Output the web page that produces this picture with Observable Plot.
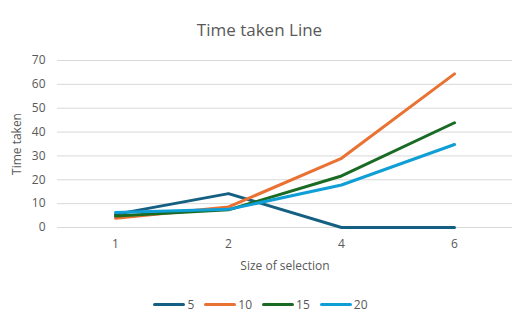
<!DOCTYPE html>
<html>
<head>
<meta charset="utf-8">
<script src="https://cdn.jsdelivr.net/npm/d3@7"></script>
<script src="https://cdn.jsdelivr.net/npm/@observablehq/plot@0.6"></script>
<style>
  body { margin: 0; background: #fff; font-family: "Open Sans", sans-serif; color: #595959; }
  #chart { width: 519px; height: 326px; position: relative; overflow: hidden; }
  #title { height: 45px; line-height: 60px; text-align: center; font-size: 17px; color: #595959; }
  #legend { display: flex; justify-content: center; gap: 10px; font-size: 12px; margin-top: 16px; padding-left: 2px; }
  .item { display: flex; align-items: center; gap: 2px; }
  .swatch { width: 32px; height: 3px; border-radius: 2px; }
</style>
</head>
<body>
<div id="chart">
  <div id="title">Time taken Line</div>
  <div id="plot"></div>
  <div id="legend"></div>
</div>
<script>
// Size of selection (x categories)
const sizes = ["1", "2", "4", "6"];
// Series names and colours
const seriesNames = ["5", "10", "15", "20"];
const seriesColors = ["#156082", "#E97132", "#196B24", "#0F9ED5"];
// Time taken per series, one value per size
const s5  = [5.5, 14.2, 0, 0];
const s10 = [3.9, 8.6, 29, 64.4];
const s15 = [4.8, 7.4, 21.6, 43.9];
const s20 = [6.3, 7.6, 17.8, 34.8];
const yTicks = [0, 10, 20, 30, 40, 50, 60, 70];

const seriesValues = [s5, s10, s15, s20];
const rows = seriesNames.flatMap((name, i) =>
  sizes.map((size, j) => ({series: name, size, value: seriesValues[i][j]}))
);

const plot = Plot.plot({
  width: 519,
  height: 235,
  marginLeft: 57,
  marginRight: 7,
  marginTop: 15,
  marginBottom: 53,
  style: {fontFamily: "Open Sans, sans-serif", fontSize: "12px", color: "#595959", background: "transparent"},
  x: {type: "point", domain: sizes, padding: 0.5, label: null},
  y: {domain: [0, 70], label: null},
  color: {domain: seriesNames, range: seriesColors},
  marks: [
    Plot.gridY(yTicks, {stroke: "#d9d9d9", strokeOpacity: 1, strokeWidth: 1}),
    Plot.axisY(yTicks, {tickSize: 0, tickPadding: 12, fontSize: 12, fill: "#595959"}),
    Plot.axisX(sizes, {tickSize: 0, tickPadding: 12, fontSize: 12, fill: "#595959"}),
    Plot.axisY({ticks: [], label: "Time taken", labelAnchor: "center", labelArrow: "none", labelOffset: 45, fontSize: 12, fill: "#595959"}),
    Plot.axisX({ticks: [], label: "Size of selection", labelAnchor: "center", labelArrow: "none", labelOffset: 42, fontSize: 12, fill: "#595959"}),
    Plot.line(rows, {x: "size", y: "value", z: "series", stroke: "series", strokeWidth: 3, strokeLinecap: "round", strokeLinejoin: "round"})
  ]
});
document.getElementById("plot").appendChild(plot);

const legend = document.getElementById("legend");
seriesNames.forEach((name, i) => {
  const item = document.createElement("div");
  item.className = "item";
  const sw = document.createElement("span");
  sw.className = "swatch";
  sw.style.background = seriesColors[i];
  const label = document.createElement("span");
  label.textContent = name;
  item.appendChild(sw);
  item.appendChild(label);
  legend.appendChild(item);
});
</script>
</body>
</html>
